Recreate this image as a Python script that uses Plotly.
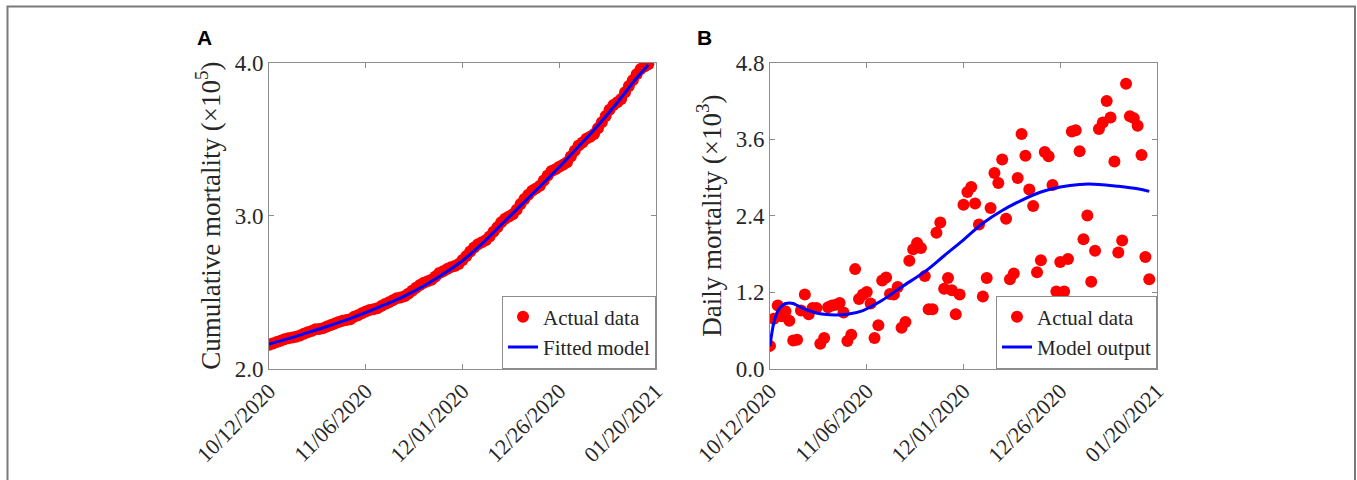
import datetime as dt
import plotly.graph_objects as go

# ---------------- data ----------------
start_date = dt.date(2020, 10, 12)
tick_dates = ["2020-10-12", "2020-11-06", "2020-12-01", "2020-12-26", "2021-01-20"]
tick_labels = ["10/12/2020", "11/06/2020", "12/01/2020", "12/26/2020", "01/20/2021"]

# Panel A: cumulative mortality (x10^5), one value per day from 10/12/2020
cumulative_actual = [
    2.156, 2.164, 2.174, 2.182, 2.191, 2.198, 2.203, 2.207, 2.216, 2.228,
    2.237, 2.246, 2.256, 2.259, 2.264, 2.274, 2.284, 2.294, 2.304, 2.313,
    2.317, 2.322, 2.338, 2.349, 2.361, 2.373, 2.383, 2.388, 2.394, 2.408,
    2.422, 2.434, 2.446, 2.459, 2.465, 2.472, 2.489, 2.508, 2.528, 2.546,
    2.561, 2.570, 2.580, 2.601, 2.624, 2.636, 2.650, 2.663, 2.671, 2.683,
    2.709, 2.736, 2.765, 2.791, 2.813, 2.825, 2.839, 2.864, 2.895, 2.924,
    2.957, 2.980, 2.994, 3.009, 3.039, 3.076, 3.109, 3.137, 3.163, 3.178,
    3.195, 3.229, 3.262, 3.291, 3.303, 3.320, 3.332, 3.349, 3.386, 3.424,
    3.458, 3.478, 3.502, 3.516, 3.534, 3.572, 3.610, 3.652, 3.692, 3.724,
    3.742, 3.762, 3.807, 3.847, 3.886, 3.924, 3.958, 3.975, 3.989,
]
fit_days = [0, 5, 10, 15, 20, 25, 30, 35, 40, 45, 50, 55, 60, 65, 70, 75, 80, 85, 90, 95, 98]
fitted_model = [2.160, 2.195, 2.235, 2.275, 2.318, 2.365, 2.418, 2.474, 2.540, 2.618,
                2.705, 2.815, 2.940, 3.065, 3.190, 3.318, 3.452, 3.590, 3.740, 3.900, 3.985]

# Panel B: daily mortality (x10^3), one value per day from 10/12/2020
daily_actual = [
    0.355, 0.78, 0.99, 0.82, 0.90, 0.75, 0.44, 0.45, 0.91, 1.16,
    0.85, 0.95, 0.95, 0.39, 0.48, 0.96, 0.99, 1.00, 1.03, 0.88,
    0.43, 0.53, 1.56, 1.09, 1.16, 1.20, 1.02, 0.48, 0.68, 1.38,
    1.43, 1.17, 1.16, 1.28, 0.64, 0.73, 1.69, 1.87, 1.97, 1.89,
    1.45, 0.93, 0.93, 2.13, 2.29, 1.25, 1.42, 1.23, 0.85, 1.16,
    2.57, 2.77, 2.85, 2.59, 2.26, 1.13, 1.42, 2.52, 3.07, 2.91,
    3.28, 2.35, 1.40, 1.49, 2.99, 3.68, 3.34, 2.81, 2.55, 1.51,
    1.70, 3.40, 3.33, 2.88, 1.21, 1.67, 1.21, 1.72, 3.72, 3.74,
    3.41, 2.03, 2.40, 1.36, 1.85, 3.76, 3.86, 4.20, 3.94, 3.25,
    1.82, 2.01, 4.47, 3.96, 3.93, 3.81, 3.35, 1.75, 1.40,
]
model_days = [0, 1, 2, 3, 4, 5, 6, 7, 8, 10, 12, 14, 17, 20, 24, 29, 34, 40, 45,
              50, 55, 60, 65, 70, 75, 80, 85, 90, 95, 98]
model_output = [0.355, 0.72, 0.90, 0.98, 1.02, 1.03, 1.02, 0.99, 0.96, 0.91, 0.87, 0.85,
                0.84, 0.85, 0.91, 1.07, 1.28, 1.52, 1.77, 2.02, 2.28, 2.48, 2.64, 2.77,
                2.85, 2.89, 2.89, 2.86, 2.82, 2.78]

# ---------------- helpers ----------------
def to_dates(days):
    return [start_date + dt.timedelta(days=d) for d in days]

actual_dates = to_dates(range(len(daily_actual)))

W, H = 1357, 480
def px_x(v):
    return v / W
def px_y(v):
    return 1 - v / H

SERIF = "Liberation Serif"
TXT = "#262626"
AX = "#8c8c8c"

fig = go.Figure()

# Panel A
fig.add_trace(go.Scatter(x=actual_dates, y=cumulative_actual, mode="markers",
                         marker=dict(color="#ff0000", size=12), name="Actual data",
                         xaxis="x", yaxis="y", legend="legend"))
fig.add_trace(go.Scatter(x=to_dates(fit_days), y=fitted_model, mode="lines",
                         line=dict(color="#0000ff", width=3, shape="spline"),
                         name="Fitted model", xaxis="x", yaxis="y", legend="legend"))
# Panel B
fig.add_trace(go.Scatter(x=actual_dates, y=daily_actual, mode="markers",
                         marker=dict(color="#ff0000", size=12), name="Actual data",
                         xaxis="x2", yaxis="y2", legend="legend2"))
fig.add_trace(go.Scatter(x=to_dates(model_days), y=model_output, mode="lines",
                         line=dict(color="#0000ff", width=3, shape="spline"),
                         name="Model output", xaxis="x2", yaxis="y2", legend="legend2"))

ydom = [px_y(368.5), px_y(62.7)]
xcommon = dict(type="date", range=["2020-10-12", "2021-01-20"], tickvals=tick_dates,
               ticktext=tick_labels, tickangle=-45, showline=True, linecolor=AX,
               linewidth=1, mirror="allticks", ticks="inside", ticklen=5, tickcolor=AX,
               showgrid=False, zeroline=False, automargin=False,
               tickfont=dict(family=SERIF, size=22, color=TXT))
ycommon = dict(showline=True, linecolor=AX, linewidth=1, mirror="allticks",
               ticks="inside", ticklen=5, tickcolor=AX, showgrid=False, zeroline=False,
               automargin=False, tickformat=".1f",
               tickfont=dict(family=SERIF, size=23, color=TXT))

legcommon = dict(bgcolor="white", bordercolor=AX, borderwidth=1,
                 font=dict(family=SERIF, size=21, color=TXT), xanchor="right",
                 yanchor="bottom", itemwidth=30, tracegroupgap=0)

fig.update_layout(
    width=W, height=H, margin=dict(l=0, r=0, t=0, b=0),
    paper_bgcolor="white", plot_bgcolor="white", template="none",
    xaxis=dict(domain=[px_x(269), px_x(656)], anchor="y", **xcommon),
    yaxis=dict(domain=ydom, anchor="x", range=[2.0, 4.0], tickvals=[2.0, 3.0, 4.0],
               title=dict(text="Cumulative mortality (×10<sup>5</sup>)",
                          font=dict(family=SERIF, size=27, color=TXT), standoff=6),
               **ycommon),
    xaxis2=dict(domain=[px_x(770), px_x(1157)], anchor="y2", **xcommon),
    yaxis2=dict(domain=ydom, anchor="x2", range=[0, 4.8],
                tickvals=[0, 1.2, 2.4, 3.6, 4.8],
                title=dict(text="Daily mortality (×10<sup>3</sup>)",
                           font=dict(family=SERIF, size=27, color=TXT), standoff=6),
                **ycommon),
    legend=dict(x=px_x(656), y=px_y(368.5), **legcommon),
    legend2=dict(x=px_x(1157), y=px_y(368.5), **legcommon),
    annotations=[
        dict(text="<b>A</b>", x=px_x(195), y=px_y(24), xref="paper", yref="paper",
             xanchor="left", yanchor="top", showarrow=False,
             font=dict(family="Liberation Sans", size=21, color="black")),
        dict(text="<b>B</b>", x=px_x(695), y=px_y(24), xref="paper", yref="paper",
             xanchor="left", yanchor="top", showarrow=False,
             font=dict(family="Liberation Sans", size=21, color="black")),
    ],
    shapes=[
        dict(type="rect", xref="paper", yref="paper", x0=px_x(7.5), x1=px_x(1355),
             y0=-0.2, y1=px_y(6.5), line=dict(color="#7a7a7a", width=2),
             fillcolor="rgba(0,0,0,0)", layer="below"),
    ],
)

fig.write_html("out.html")
